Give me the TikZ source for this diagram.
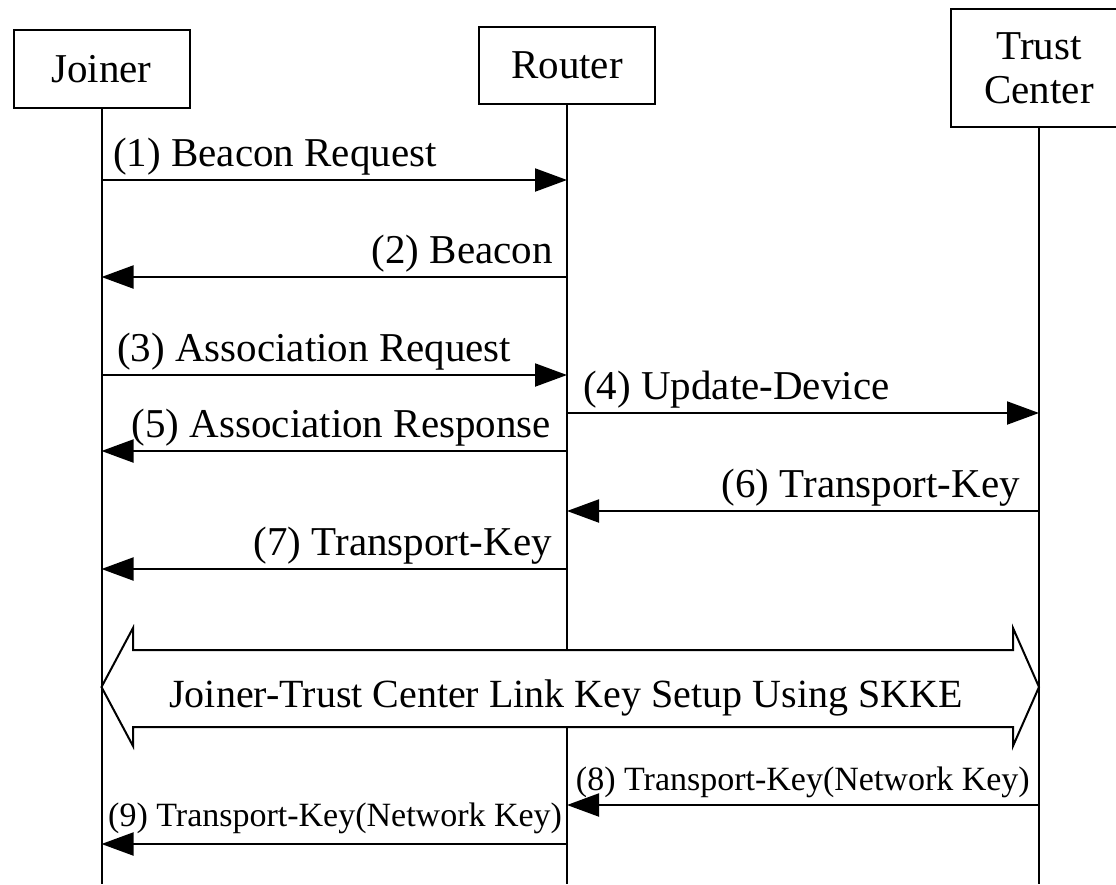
\documentclass[tikz,border=0pt]{standalone}
\usepackage{fontspec}
\setmainfont{Liberation Serif}
\usetikzlibrary{arrows.meta}
\begin{document}
\begin{tikzpicture}[x=1pt,y=-1pt,
  actor/.style={draw, line width=2pt, minimum width=176pt, inner sep=0pt,
    align=center, font=\fontsize{41}{44}\selectfont},
  life/.style={line width=2pt},
  msg/.style={line width=2pt, -{Triangle[length=32pt,width=23pt]}},
  lbl/.style={inner sep=0pt, font=\fontsize{41}{44}\selectfont},
  biglbl/.style={inner sep=0pt, font=\fontsize{40}{44}\selectfont},
  slbl/.style={inner sep=0pt, font=\fontsize{34}{36}\selectfont},
  bigarrow/.style={draw, line width=2pt, fill=white, line join=miter}]
\useasboundingbox[fill=white] (0,0) rectangle (1116,884);
\clip (0,0) rectangle (1116,884);

% participants
\node[actor, minimum height=78pt] (J) at (101.5,69) {Joiner};
\node[actor, minimum height=77pt] (R) at (567,65.5) {Router};
\node[actor, minimum height=118pt] (T) at (1039,68) {Trust\\Center};

% lifelines
\coordinate (Jb) at (101.5,884);
\coordinate (Rb) at (567,884);
\coordinate (Tb) at (1039,884);
\draw[life] (J.south) -- (Jb);
\draw[life] (R.south) -- (Rb);
\draw[life] (T.south) -- (Tb);

% message end points on the lifelines
\coordinate (J1) at (101.5,180); \coordinate (R1) at (567,180);
\coordinate (J2) at (101.5,277); \coordinate (R2) at (567,277);
\coordinate (J3) at (101.5,375); \coordinate (R3) at (567,375);
\coordinate (R4) at (567,413);   \coordinate (T4) at (1039,413);
\coordinate (J5) at (101.5,451); \coordinate (R5) at (567,451);
\coordinate (R6) at (567,511);   \coordinate (T6) at (1039,511);
\coordinate (J7) at (101.5,569); \coordinate (R7) at (567,569);
\coordinate (R8) at (567,805);   \coordinate (T8) at (1039,805);
\coordinate (J9) at (101.5,844); \coordinate (R9) at (568,844);

% messages
\draw[msg] (J1) -- (R1);
\node[lbl, anchor=base west] (L1) at (113,166) {(1) Beacon Request};
\draw[msg] (R2) -- (J2);
\node[lbl, anchor=base east] (L2) at (553,263) {(2) Beacon};
\draw[msg] (J3) -- (R3);
\node[lbl, anchor=base west] (L3) at (117,361) {(3) Association Request};
\draw[msg] (R4) -- (T4);
\node[lbl, anchor=base west] (L4) at (583,399) {(4) Update-Device};
\draw[msg] (R5) -- (J5);
\node[lbl, anchor=base east] (L5) at (551,437) {(5) Association Response};
\draw[msg] (T6) -- (R6);
\node[lbl, anchor=base east] (L6) at (1020,497) {(6) Transport-Key};
\draw[msg] (R7) -- (J7);
\node[lbl, anchor=base east] (L7) at (552,555) {(7) Transport-Key};

% link key setup between joiner and trust center
\draw[bigarrow] (101.5,687) -- (133,628) -- (133,650) -- (1013,650) -- (1013,628)
  -- (1039,687) -- (1013,746) -- (1013,727) -- (133,727) -- (133,746) -- cycle;
\node[biglbl, anchor=base] (SK) at (566,707) {Joiner-Trust Center Link Key Setup Using SKKE};

\draw[msg] (T8) -- (R8);
\node[slbl, anchor=base east] (L8) at (1030,790) {(8) Transport-Key(Network Key)};
\draw[msg] (R9) -- (J9);
\node[slbl, anchor=base west] (L9) at (108,826) {(9) Transport-Key(Network Key)};
\end{tikzpicture}
\end{document}
